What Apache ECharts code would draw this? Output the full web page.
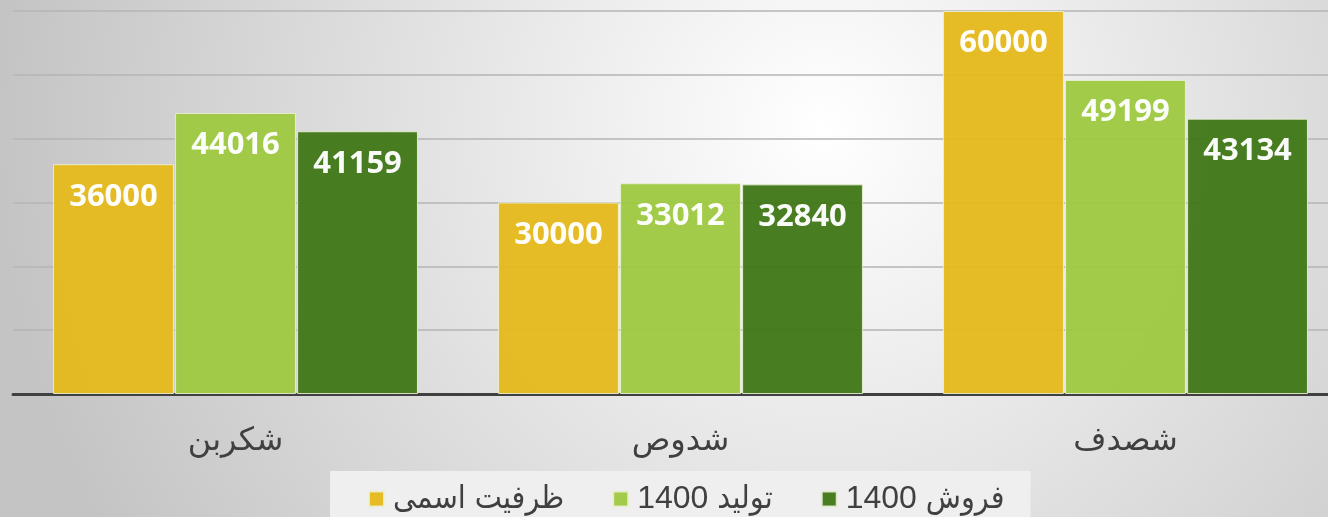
<html lang="fa">
<head>
    <meta charset="UTF-8">
    <title>ظرفیت و تولید</title>
    <script src="https://cdn.jsdelivr.net/npm/echarts@6/dist/echarts.min.js"></script>
    <style>
        html, body { margin: 0; padding: 0; }
        #main { width: 1328px; height: 517px; }
    </style>
</head>
<body>
<div id="main" dir="rtl"></div>
<script type="text/javascript">
    // داده ها
    var categories = ['شکربن', 'شدوص', 'شصدف'];
    var seriesNames = ['ظرفیت اسمی', 'تولید 1400', 'فروش 1400'];
    var capacity = [36000, 30000, 60000];
    var production = [44016, 33012, 49199];
    var sales = [41159, 32840, 43134];
    var colors = ['#E5BA1F', '#9FC944', '#42791A'];

    var myChart = echarts.init(document.getElementById('main'));

    function makeSeries(name, data, color) {
        return {
            name: name,
            type: 'bar',
            data: data,
            barGap: '1%',
            barCategoryGap: '18%',
            itemStyle: {
                color: color,
                opacity: 0.97,
                borderColor: 'rgba(235,240,215,0.9)',
                borderWidth: 1
            },
            label: {
                show: true,
                position: 'insideTop',
                distance: 17,
                color: '#ffffff',
                fontFamily: 'Open Sans',
                fontWeight: 'bold',
                fontSize: 31
            }
        };
    }

    var option = {
        backgroundColor: {
            type: 'radial',
            x: 0.62, y: 0.25, r: 1.6,
            colorStops: [
                {offset: 0, color: '#ffffff'},
                {offset: 1, color: '#c4c4c4'}
            ]
        },
        color: colors,
        animation: false,
        grid: {
            left: 13,
            right: -20,
            top: 11,
            bottom: 123,
            outerBoundsMode: 'none'
        },
        legend: {
            data: seriesNames,
            bottom: -10,
            left: 330,
            itemWidth: 15,
            itemHeight: 15,
            itemGap: 48,
            padding: [12, 26, 12, 38],
            backgroundColor: '#efefef',
            icon: 'rect',
            textStyle: {
                color: '#404040',
                fontFamily: "'Liberation Sans', 'DejaVu Sans Condensed'",
                fontSize: 32,
                padding: [0, 0, 0, 4]
            }
        },
        xAxis: {
            type: 'category',
            data: categories,
            axisTick: {show: false},
            axisLine: {lineStyle: {color: '#404040', width: 3}},
            axisLabel: {
                color: '#404040',
                fontFamily: 'DejaVu Sans',
                fontSize: 32,
                margin: 32
            }
        },
        yAxis: {
            type: 'value',
            min: 0,
            max: 60000,
            interval: 10000,
            axisLabel: {show: false},
            axisLine: {show: false},
            axisTick: {show: false},
            splitLine: {lineStyle: {color: '#b4b4b4', width: 1.5}}
        },
        series: [
            makeSeries(seriesNames[0], capacity, colors[0]),
            makeSeries(seriesNames[1], production, colors[1]),
            makeSeries(seriesNames[2], sales, colors[2])
        ]
    };

    myChart.setOption(option);
</script>
</body>
</html>
